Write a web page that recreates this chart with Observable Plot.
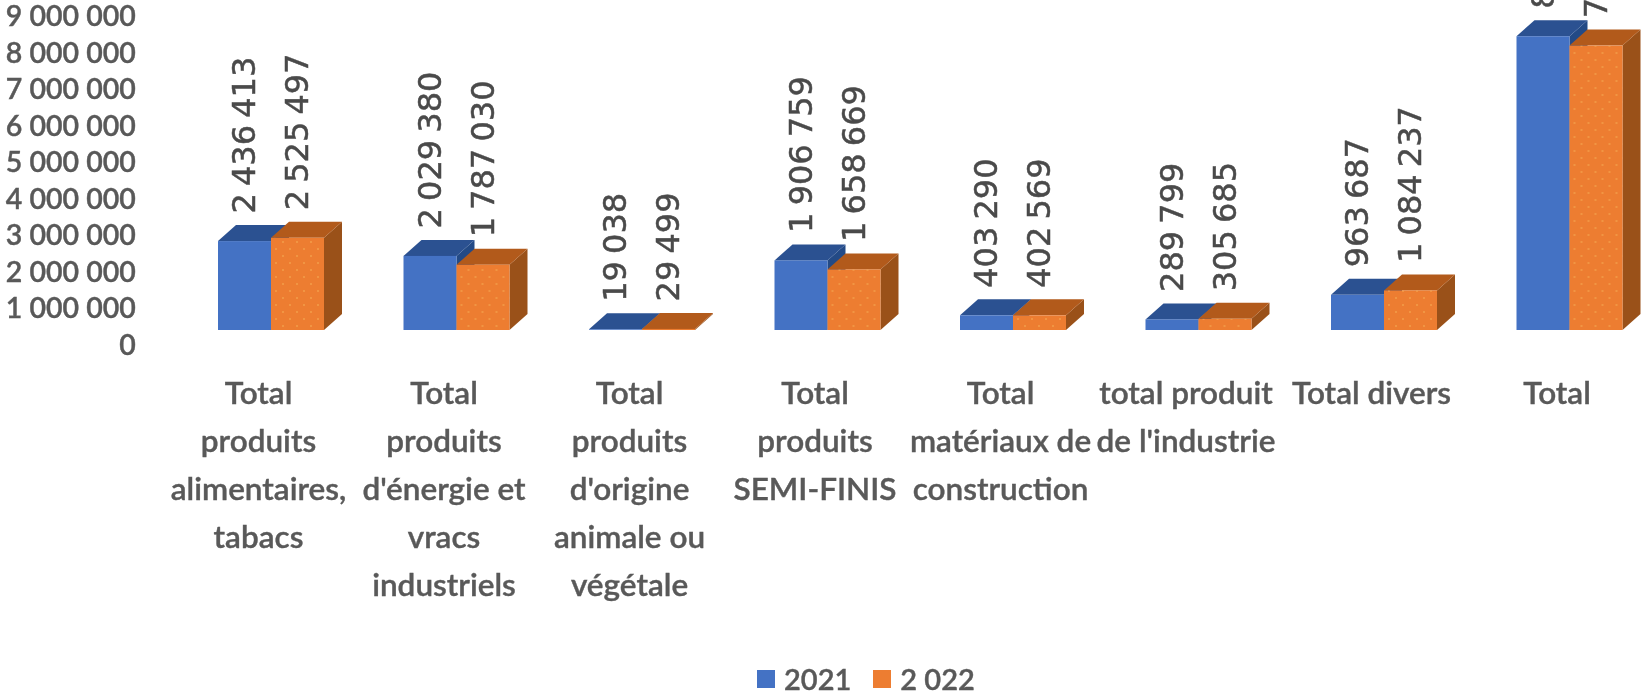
<!DOCTYPE html>
<html><head><meta charset="utf-8">
<style>
html,body{margin:0;padding:0;background:#fff;overflow:hidden}
#chart,#legend{filter:blur(0.6px)}
#legend{height:37px;display:flex;align-items:center;margin-left:757px;font:600 29px Lato,sans-serif;color:#595959;-webkit-text-stroke:.4px #595959}
#legend span.s{display:inline-block;width:18px;height:18px;margin-right:9px}
#legend span.t{margin-right:22px}
g[aria-label="text"] text{word-spacing:-3px;stroke:#4a4a4a;stroke-width:.5px}
g[aria-label="y-axis tick label"] text,g[aria-label="fx-axis tick label"] text{stroke:#595959;stroke-width:.4px}
</style>
<script src="https://cdn.jsdelivr.net/npm/d3@7"></script>
<script src="https://cdn.jsdelivr.net/npm/@observablehq/plot@0.6"></script>
</head><body>
<div id="chart"></div>
<div id="legend"></div>
<script>
const categories = [
  "Total\nproduits\nalimentaires,\ntabacs",
  "Total\nproduits\nd'énergie et\nvracs\nindustriels",
  "Total\nproduits\nd'origine\nanimale ou\nvégétale",
  "Total\nproduits\nSEMI-FINIS",
  "Total\nmatériaux de\nconstruction",
  "total produit\nde l'industrie",
  "Total divers",
  "Total"
];
const values2021 = [2436413, 2029380, 19038, 1906759, 403290, 289799, 963687, 8048366];
const values2022 = [2525497, 1787030, 29499, 1658669, 402569, 305685, 1084237, 7792186];
const seriesNames = ["2021", "2 022"];
const frontColors = ["#4472C4", "#ED7D31"];
const topColors = ["#2B5191", "#B25A1B"];
const sideColors = ["#234a86", "#9A5119"];

const rows = categories.flatMap((category, i) => [
  {category, series: seriesNames[0], value: values2021[i]},
  {category, series: seriesNames[1], value: values2022[i]}
]);

const spaced = d3.formatLocale({decimal: ",", thousands: " ", grouping: [3], currency: ["", ""]}).format(",");
const depthX = 18, depthY = 16;

// Extrude every bar Plot has positioned into a box: side and top faces go behind the front face.
function extrude(index, scales, values, dims, ctx, next) {
  const g = next(index, scales, values, dims, ctx);
  d3.select(g).selectAll("rect").each(function (_, k) {
    const i = index[k];
    const s = seriesNames.indexOf(rows[i].series);
    const x = +this.getAttribute("x"), y = +this.getAttribute("y");
    const w = +this.getAttribute("width"), h = +this.getAttribute("height");
    const add = (pts, fill) => {
      const p = document.createElementNS("http://www.w3.org/2000/svg", "polygon");
      p.setAttribute("points", pts.map(d => d.join(",")).join(" "));
      p.setAttribute("fill", fill);
      this.parentNode.insertBefore(p, this);
    };
    add([[x + w, y], [x + w + depthX, y - depthY], [x + w + depthX, y + h - depthY], [x + w, y + h]], sideColors[s]);
    add([[x, y], [x + depthX, y - depthY], [x + w + depthX, y - depthY], [x + w, y]], topColors[s]);
  });
  return g;
}

const plot = Plot.plot({
  width: 1642,
  height: 660,
  marginLeft: 178.25,
  marginRight: -20.25,
  marginTop: 1.5,
  marginBottom: 330,
  style: {background: "#fff", overflow: "hidden"},
  fx: {domain: categories, padding: 0, round: false, label: null},
  x: {domain: seriesNames, paddingInner: 0, paddingOuter: 0.75, round: false, axis: null},
  y: {domain: [0, 9000000], label: null, axis: null},
  color: {domain: seriesNames, range: frontColors},
  marks: [
    Plot.barY(rows, {fx: "category", x: "series", y: "value", fill: "series", inset: 0, render: extrude}),
    Plot.barY(rows.filter(d => d.series === seriesNames[1]), {fx: "category", x: "series", y: "value", fill: "url(#dots)"}),
    Plot.text(rows, {
      fx: "category", x: "series", y: "value",
      text: d => spaced(d.value),
      rotate: -90, textAnchor: "start", dy: -28, dx: 0,
      fontFamily: "DejaVu Sans", fontSize: 32, fill: "#4a4a4a"
    }),
    Plot.axisY({
      anchor: "left", tickSize: 0, tickPadding: 43, dy: 15, label: null,
      ticks: d3.range(0, 9000001, 1000000), tickFormat: spaced,
      fontFamily: "Lato", fontSize: 28.5, fontWeight: 600, fill: "#595959"
    }),
    Plot.axisFx({
      anchor: "bottom", tickSize: 0, tickPadding: 39, dx: -13, label: null,
      lineHeight: 48 / 31.5, lineWidth: 100,
      fontFamily: "Lato", fontSize: 31.5, fontWeight: 600, fill: "#595959"
    })
  ]
});

// Faint speckle seen on the orange front faces.
const defs = d3.select(plot).insert("defs", ":first-child");
const pattern = defs.append("pattern").attr("id", "dots").attr("patternUnits", "userSpaceOnUse")
  .attr("width", 14).attr("height", 14);
pattern.append("circle").attr("cx", 3).attr("cy", 4).attr("r", 0.8).attr("fill", "#F6B45A");
pattern.append("circle").attr("cx", 10).attr("cy", 11).attr("r", 0.8).attr("fill", "#F6B45A");

document.getElementById("chart").append(plot);

const legend = d3.select("#legend");
seriesNames.forEach((name, i) => {
  legend.append("span").attr("class", "s").style("background", frontColors[i]);
  legend.append("span").attr("class", "t").text(name);
});
</script>
</body></html>
